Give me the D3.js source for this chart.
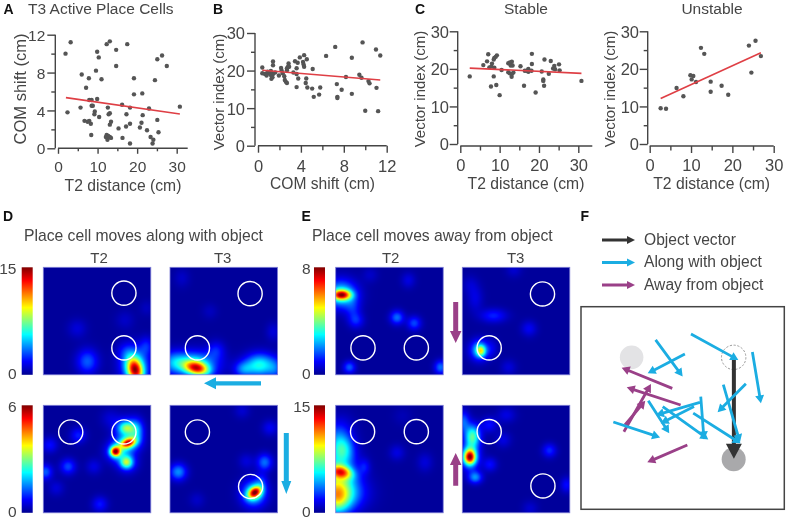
<!DOCTYPE html>
<html><head><meta charset="utf-8">
<script src="https://cdn.jsdelivr.net/npm/d3@7"></script>
<style>html,body{margin:0;padding:0;background:#fff}svg{display:block;filter:blur(.35px)}text{font-family:"Liberation Sans",Arial,sans-serif;fill:#454545}</style>
</head><body><svg id="c" width="787" height="520"></svg>
<script>
// Panel A: T2 distance (cm), COM shift (cm)
const aPoints=[[1.9,10.0],[3.2,11.2],[2.4,3.8],[6.0,7.8],[5.7,4.3],[7.1,6.4],[7.8,7.4],[7.9,5.1],[8.5,5.1],[6.7,2.9],[7.5,2.8],[7.9,2.9],[8.3,2.6],[8.4,1.4],[8.5,4.5],[8.8,4.5],[9.3,3.9],[9.2,3.6],[9.6,8.2],[9.9,10.2],[10.3,9.6],[11.0,7.3],[9.9,5.2],[10.4,3.3],[12.3,11.0],[13.1,11.3],[14.7,10.4],[14.7,8.7],[12.6,4.3],[13.1,3.7],[12.8,3.6],[13.4,2.8],[13.1,2.5],[12.3,1.4],[12.1,1.2],[12.5,0.9],[12.7,1.3],[13.1,1.2],[13.4,1.1],[15.3,2.1],[16.3,1.1],[16.2,4.6],[17.3,3.6],[17.2,2.3],[17.5,11.0],[18.2,4.3],[18.2,2.6],[18.2,0.5],[19.2,7.4],[19.2,5.7],[21.3,5.8],[20.7,2.2],[21.1,2.7],[21.4,3.5],[22.5,1.9],[23.0,4.2],[23.4,1.2],[24.1,0.9],[23.9,0.5],[24.5,7.2],[25.1,9.4],[26.3,9.8],[27.5,8.7],[25.1,3.0],[25.4,1.7],[30.8,4.4]];
const aFit=[[2.0,5.35],[30.8,3.63]];
// Panel B: COM shift (cm), Vector index (cm)
const bPoints=[[.4,20.8],[.4,19.3],[.65,19.1],[.9,19.7],[1.05,19.3],[.8,18.7],[1.2,19.9],[1.2,18.8],[1.25,17.8],[1.4,19.1],[1.35,18.2],[1.6,19.5],[1.95,18.7],[1.4,22.4],[1.4,21.4],[2.15,20.7],[2.2,20.0],[2.3,19.3],[2.45,18.5],[2.5,17.5],[2.7,20.6],[2.7,20.1],[2.8,21.0],[2.85,21.9],[2.9,21.0],[2.6,17.0],[2.7,16.7],[3.3,19.5],[3.45,22.5],[3.7,22.1],[3.6,20.6],[3.6,19.1],[3.75,17.9],[3.6,15.6],[3.9,23.5],[4.2,22.3],[4.3,24.1],[4.25,21.6],[4.3,21.0],[4.55,23.0],[4.5,17.9],[4.45,16.7],[4.6,15.5],[5.05,15.2],[5.1,20.4],[5.2,13.0],[5.7,13.6],[5.8,15.5],[6.35,23.9],[7.2,26.3],[7.35,16.4],[7.4,13.0],[7.4,12.7],[7.8,14.9],[8.2,18.3],[8.75,23.4],[8.75,13.8],[9.45,18.9],[9.65,18.1],[9.75,27.5],[10.0,9.3],[10.3,17.2],[10.4,16.6],[11.0,25.6],[11.05,15.4],[11.2,9.2],[11.4,24.0]];
const bFit=[[.4,20.1],[11.4,17.5]];
// Panel C (Stable): T2 distance, Vector index
const cPoints=[[2.4,18.0],[5.85,21.0],[6.8,22.0],[7.1,23.9],[7.4,20.4],[7.8,15.3],[7.9,20.6],[8.05,21.4],[8.5,22.5],[8.65,22.9],[9.0,23.2],[9.3,23.6],[8.5,18.0],[8.65,20.3],[9.15,15.7],[10.0,13.0],[10.5,19.7],[12.2,21.5],[12.6,21.7],[13.1,21.9],[12.8,20.9],[13.3,20.9],[12.2,19.1],[12.6,18.8],[13.05,18.6],[13.5,19.0],[13.05,17.9],[15.3,20.7],[16.2,15.5],[16.4,19.5],[16.9,19.5],[17.3,20.0],[17.3,19.2],[18.1,19.5],[18.2,24.0],[18.2,21.3],[19.15,13.7],[20.7,19.3],[21.1,17.2],[21.1,16.8],[21.3,15.5],[21.4,22.5],[22.5,18.7],[23.0,22.1],[23.6,20.1],[23.9,20.8],[24.1,19.9],[25.1,21.2],[25.25,19.6],[30.8,16.8]];
const cFit=[[2.4,20.2],[30.8,18.8]];
// Panel C (Unstable)
const uPoints=[[2.65,9.5],[3.95,9.4],[6.5,14.9],[8.15,12.7],[9.85,18.3],[10.15,17.2],[10.55,18.1],[11.2,16.5],[12.4,25.6],[13.2,24.0],[14.75,16.6],[14.75,13.9],[17.4,15.5],[19.0,13.1],[24.0,26.2],[24.6,19.0],[25.6,27.5],[26.9,23.4]];
const uFit=[[2.65,12.1],[26.9,24.3]];
// Rate maps: peaks [x%, y%, sigmaX, sigmaY, level 0-1, tilt deg]
const mapDT2a=[[85.5,96,5,8,.68,-15],[85,91,9,11,.33,0],[41,87.6,7,8,.2],[31.6,57,6,6,.07],[76,49,6,6,.05],[96,73,4.5,6,.12],[96,38,4.5,5,.04],[77,78,6,6,.08]];
const mapDT3a=[[25,94,8,4.4,.62,14],[22,90,15,8,.36],[3,88,8,7,.16],[83.6,91,10,7.5,.38],[68,95,6,5,.18],[43,77,5.5,6,.12],[96,60,4.5,6,.07],[11,10,5,6,.05],[37,41,5,5,.04],[98,95,5,7,.12]];
const mapDT2b=[[67,43,3.2,3.2,.72],[79,35,5,3,.62,-20],[77.4,53,3.8,3.8,.34],[77.4,21,5,3.8,.28],[87,24,4.5,7.5,.2],[68,43,7,6.5,.24],[78,53,6.5,6.5,.2],[79,35,8,6.5,.27],[78,21,8,7,.22],[6,37,5,5,.12],[23,57,5,5,.18],[2,62,4.5,5,.2],[32.5,28,5,5,.14],[47,57,5,5,.08],[52.6,92,5,5,.13],[12,77,5,5,.07],[62,12,6,6,.06]];
const mapDT3b=[[79,81,4.8,3.4,.68,-35],[78,82,8,8.5,.34],[7.7,62,5.5,5.5,.25],[88,53,5,5.5,.22],[71,52,5,5,.07],[93,21,5,5,.1],[67,5,5,5,.06],[25,88,5,5,.05],[85,70,4,5,.1]];
const mapET2a=[[5.6,25.7,6,3.2,.65],[5,25,10,9,.36],[18.9,49.5,5,5,.14],[57,46.7,4.5,4.5,.22],[73,52,4.5,4.5,.18],[12.7,93,4,4,.2],[97.5,93,4,4.5,.22],[67.5,12,4.5,5,.08],[32,7,5,5,.05],[16,38,5,7,.1]];
const mapET3a=[[17.3,77.7,2.8,3.4,.34],[16,77,6,6.5,.32],[29,45,8.5,4.5,.14],[62,57,5,5,.1],[12,29,5,8.5,.08],[43,93,5,5,.07],[48,2,5,5,.06],[7,16,5,6,.05],[28,75,4,6,.06]];
const mapET2b=[[5,62,7.5,4.2,.52,12],[0,62,13,15,.3],[1,86,9,11,.42],[8,82,14,11,.25],[7,41,7,9,.28],[0,30,8,10,.14],[27,57,3.5,5,.1],[57,44,5,5,.08],[83,53,5,6,.07],[7,20,8,9,.05],[62,10,6,6,.03]];
const mapET3b=[[7,48,3.6,4.6,.66],[7,48,6,8,.34],[9.5,29,5,7.5,.44],[1,15,4,7,.2],[12,67,4.5,4,.25],[25.7,55,4.5,4.5,.12],[81,42,4.5,4.5,.15],[38,32,5,5,.08],[41,9,6,5,.08],[97,74,4,5,.12],[63,96,5,5,.06],[25,18,5,5,.12]];
// Object circles per map, in map %
const objDT2a=[[75,24],[75,75]], objDT3a=[[74.5,24.5],[25.5,75]], objDT2b=[[25.5,24.8],[75,24.8]], objDT3b=[[25.5,24.8],[75,75.5]];
const objET2a=[[25.4,75],[75,75]], objET3a=[[74.6,24.8],[25,75]], objET2b=[[25,24.5],[75,24.5]], objET3b=[[25,24.5],[75,75]];
// Panel F: vectors in arena %  [x1,y1,x2,y2]
const alongVectors=[[54.1,13.5,77.4,26.3],[36.7,16.4,50,34.5],[51.1,23.4,32.8,32.9],[84.3,22.4,88.5,47.7],[81.1,38,67.2,52.1],[70,38.5,78.2,66.9],[58.5,47.2,36.9,53.5],[55.6,49.3,39.2,57.6],[58.9,44.4,60.5,65.5],[33.1,46.4,43.4,62.5],[40.2,49.3,62.6,65.5],[55.2,52.5,78.5,67.4],[15.9,56.9,38.9,64.5]];
const awayVectors=[[44.9,40.3,20,30.1],[49,48.5,22.5,39.8],[21.1,61.7,34.4,38.2],[21.6,58.4,31.6,46.4],[52.3,68.3,32.6,76.8]];
const objectVector=[[75.2,26,75.2,75]];
const legendLabels=["Object vector","Along with object","Away from object"];

const svg=d3.select("#c");
const ink="#454545", BLUE="#1bade2", PURPLE="#9a4088", BLACK="#333";
const txt=(s,x,y,o={})=>{const t=svg.append("text").attr("x",x).attr("y",y).attr("font-size",o.size||15).attr("text-anchor",o.a||"start").text(s);
 if(o.bold){t.attr("font-weight","bold").style("fill","#111")}
 if(o.rot){t.attr("transform",`rotate(-90 ${x} ${y})`)}return t};

function scatter(p){
 const g=svg.append("g");
 const x=d3.scaleLinear().domain(p.xd).range(p.xr), y=d3.scaleLinear().domain(p.yd).range(p.yr);
 const axis=(gen,tr,ticks,len)=>{const a=g.append("g").attr("transform",tr).call(gen.tickValues(ticks).tickSize(len).tickFormat(d3.format("d")));
   a.select(".domain").remove();a.selectAll("line").attr("stroke",ink).attr("stroke-width",1.4);
   a.selectAll("text").attr("font-size",p.ts).attr("font-family",null).style("fill",ink);return a;};
 const ya=axis(d3.axisLeft(y),`translate(${p.ax},0)`,p.ym,8);ya.selectAll("text").attr("x",p.tx).attr("dy",".36em");
 const ym=axis(d3.axisLeft(y),`translate(${p.ax},0)`,p.yn,4);ym.selectAll("text").remove();
 const xa=axis(d3.axisBottom(x),`translate(0,${p.ay})`,p.xm,p.xl);xa.selectAll("text").attr("y",0).attr("dy",null).attr("transform",`translate(0,${p.tickY-p.ay})`);
 const xn=axis(d3.axisBottom(x),`translate(0,${p.ay})`,p.xn,p.xl-2.5);xn.selectAll("text").remove();
 g.append("path").attr("fill","none").attr("stroke",ink).attr("stroke-width",1.4)
  .attr("d",`M${p.ax},${y(p.yd[1])}V${y(0)}`);
 g.append("path").attr("fill","none").attr("stroke",ink).attr("stroke-width",1.4)
  .attr("d",`M${x(0)},${p.ay}H${p.xe}`);
 g.selectAll("circle").data(p.pts).join("circle").attr("cx",d=>x(d[0])).attr("cy",d=>y(d[1])).attr("r",2.2).attr("fill","#555");
 g.append("path").datum(p.fit).attr("fill","none").attr("stroke","#df3f45").attr("stroke-width",1.6).attr("d",d3.line().x(d=>x(d[0])).y(d=>y(d[1])));
 txt(p.xt,p.xtx,p.xty,{a:"middle",size:p.xs});
 txt(p.yt,p.ytx,p.yty,{a:"middle",size:p.ys,rot:true});
}
const M0=[0,10,20,30],N0=[5,15,25],M1=[0,4,8,12],N1=[2,6,10];
scatter({pts:aPoints,fit:aFit,xd:[0,30],xr:[58,176.7],yd:[0,12],yr:[148.3,34.7],ax:55.3,ay:148.3,xe:187.7,xl:5.5,tickY:172,tx:-10,ts:15.5,xs:15.7,ys:16.5,xm:M0,xn:N0,ym:M1,yn:N1,xt:"T2 distance (cm)",xtx:123,xty:191,yt:"COM shift (cm)",ytx:26,yty:89});
scatter({pts:bPoints,fit:bFit,xd:[0,12],xr:[258,386.7],yd:[0,30],yr:[145.7,33],ax:255,ay:145.7,xe:386.7,xl:7,tickY:172,tx:-10,ts:16.5,xs:15.6,ys:15,xm:M1,xn:N1,ym:M0,yn:N0,xt:"COM shift (cm)",xtx:322.5,xty:189,yt:"Vector index (cm)",ytx:224,yty:92});
scatter({pts:cPoints,fit:cFit,xd:[0,30],xr:[460.3,578.3],yd:[0,30],yr:[144,31.3],ax:457.7,ay:146,xe:592.3,xl:7,tickY:171,tx:-8.7,ts:16.5,xs:15.7,ys:15,xm:M0,xn:N0,ym:M0,yn:N0,xt:"T2 distance (cm)",xtx:526,xty:189,yt:"Vector index (cm)",ytx:425,yty:89});
scatter({pts:uPoints,fit:uFit,xd:[0,30],xr:[649.7,773.7],yd:[0,30],yr:[144,31.3],ax:647.7,ay:146,xe:773.7,xl:7,tickY:171,tx:-8.7,ts:16.5,xs:15.7,ys:15,xm:M0,xn:N0,ym:M0,yn:N0,xt:"T2 distance (cm)",xtx:711.7,xty:189,yt:"Vector index (cm)",ytx:615,yty:89});

const jet=d3.scaleLinear().domain([0,.125,.375,.625,.875,1]).range(["#000090","#0000ff","#00ffff","#ffff00","#ff0000","#800000"]).clamp(true);

function heat(x0,y0,peaks,objs){
 const W=108,H=108,cv=document.createElement("canvas");cv.width=W;cv.height=H;
 const c=cv.getContext("2d"),img=c.createImageData(W,H);
 const px=d3.scaleLinear().domain([0,W]).range([0,100]);
 for(let j=0;j<H;j++)for(let i=0;i<W;i++){
  const u=px(i+.5),v=px(j+.5);let t=.012;
  for(const [cx,cy,sx,sy,a,r] of peaks){
   const th=(r||0)*Math.PI/180,dx=u-cx,dy=v-cy,xr=dx*Math.cos(th)+dy*Math.sin(th),yr=-dx*Math.sin(th)+dy*Math.cos(th);
   t+=a*Math.exp(-.5*(xr*xr/(sx*sx)+yr*yr/(sy*sy)));
  }
  const col=d3.rgb(jet(t)),k=(j*W+i)*4;
  img.data[k]=col.r;img.data[k+1]=col.g;img.data[k+2]=col.b;img.data[k+3]=255;
 }
 c.putImageData(img,0,0);
 const g=svg.append("g").attr("transform",`translate(${x0},${y0})`);
 g.append("image").attr("width",107.5).attr("height",107.5).attr("href",cv.toDataURL());
 g.append("rect").attr("width",107.5).attr("height",107.5).attr("fill","none").attr("stroke","#7d7dd6").attr("stroke-width",.8);
 const s=d3.scaleLinear().domain([0,100]).range([0,107.5]);
 g.selectAll("circle").data(objs).join("circle").attr("cx",d=>s(d[0])).attr("cy",d=>s(d[1])).attr("r",12.1).attr("fill","none").attr("stroke","#fff").attr("stroke-width",1.4);
}
function bar(x0,y0,maxLabel,labelX){
 const id="g"+Math.round(x0)+"_"+Math.round(y0),defs=svg.append("defs"),lg=defs.append("linearGradient").attr("id",id).attr("x1",0).attr("y1",1).attr("x2",0).attr("y2",0);
 jet.domain().forEach(d=>lg.append("stop").attr("offset",d).attr("stop-color",jet(d)));
 svg.append("rect").attr("x",x0).attr("y",y0).attr("width",11).attr("height",107.5).attr("fill",`url(#${id})`);
 txt(maxLabel,labelX,y0+7,{a:"end",size:15.5});
 txt("0",labelX,y0+111.5,{a:"end",size:15.5});
}
const XD1=43.3,XD2=170,XE1=335.7,XE2=462.3,YT=267.3,YB=405.3;
heat(XD1,YT,mapDT2a,objDT2a);heat(XD2,YT,mapDT3a,objDT3a);heat(XD1,YB,mapDT2b,objDT2b);heat(XD2,YB,mapDT3b,objDT3b);
heat(XE1,YT,mapET2a,objET2a);heat(XE2,YT,mapET3a,objET3a);heat(XE1,YB,mapET2b,objET2b);heat(XE2,YB,mapET3b,objET3b);
bar(21.7,YT,"15",16.5);bar(21.7,YB,"6",16.5);bar(314,YT,"8",310.5);bar(314,YB,"15",310.5);

// block arrows between maps
const block=(x1,y1,x2,y2,col,w,hw,hl)=>{const L=Math.hypot(x2-x1,y2-y1);
 svg.append("path").attr("transform",`translate(${x1},${y1}) rotate(${Math.atan2(y2-y1,x2-x1)*180/Math.PI})`)
  .attr("d",`M0,${-w/2}H${L-hl}V${-hw/2}L${L},0L${L-hl},${hw/2}V${w/2}H0Z`).attr("fill",col);};
block(261,383.3,204,383.3,BLUE,4.2,12,12);
block(286.3,433,286.3,494,BLUE,5,10,13);
block(455.7,302,455.7,343,PURPLE,5,11.5,12);
block(455.7,485.7,455.7,453,PURPLE,5,11.5,12);

// Panel F
svg.append("rect").attr("x",581).attr("y",306.7).attr("width",203.3).attr("height",202.6).attr("fill","#fff").attr("stroke","#444").attr("stroke-width",1.5);
const ax=d3.scaleLinear().domain([0,100]).range([581,784.3]), ay=d3.scaleLinear().domain([0,100]).range([306.7,509.3]);
const rad=d3.scaleLinear().domain([0,100]).range([0,203.3]);
svg.append("circle").attr("cx",ax(24.9)).attr("cy",ay(25)).attr("r",rad(5.8)).attr("fill","#e3e3e5");
svg.append("circle").attr("cx",ax(75.1)).attr("cy",ay(75.3)).attr("r",rad(5.9)).attr("fill","#a9a9ab");
svg.append("circle").attr("cx",ax(75.1)).attr("cy",ay(25)).attr("r",rad(6)).attr("fill","none").attr("stroke","#9a9a9a").attr("stroke-width",1).attr("stroke-dasharray","2.2 1.6");
function arrows(data,col,w,hl,hw){
 const g=svg.append("g");
 g.selectAll("path").data(data).join("path").attr("fill",col).attr("transform",d=>`translate(${ax(d[0])},${ay(d[1])}) rotate(${Math.atan2(ay(d[3])-ay(d[1]),ax(d[2])-ax(d[0]))*180/Math.PI})`)
  .attr("d",d=>{const L=Math.hypot(ay(d[3])-ay(d[1]),ax(d[2])-ax(d[0]));return `M0,${-w/2}H${L-hl}V${-hw/2}L${L},0L${L-hl},${hw/2}V${w/2}H0Z`});
}
arrows(objectVector,BLACK,4,15,16);
arrows(awayVectors,PURPLE,2.8,8,9);
arrows(alongVectors,BLUE,2.8,8,9);
// legend
const legCols=[BLACK,BLUE,PURPLE];
legendLabels.forEach((s,i)=>{const y=240+i*22.5;
 block(602,y,635,y,legCols[i],3.2,8,8);
 txt(s,644,y+4.7,{size:15.6});
});

// titles
txt("T3 Active Place Cells",28,13.5,{size:15.5});
txt("Stable",526,14,{a:"middle",size:15.5});
txt("Unstable",712,14,{a:"middle",size:15.5});
txt("Place cell moves along with object",24,241,{size:15.7});
txt("Place cell moves away from object",312,241,{size:15.7});
txt("T2",99,263,{a:"middle",size:15});txt("T3",222.7,263,{a:"middle",size:15});
txt("T2",390.7,263,{a:"middle",size:15});txt("T3",515.7,263,{a:"middle",size:15});
[["A",3.5,14],["B",213,14],["C",415,14],["D",3,221],["E",301.5,221],["F",580.5,221]].forEach(d=>txt(d[0],d[1],d[2],{bold:true,size:14}));
</script></body></html>
